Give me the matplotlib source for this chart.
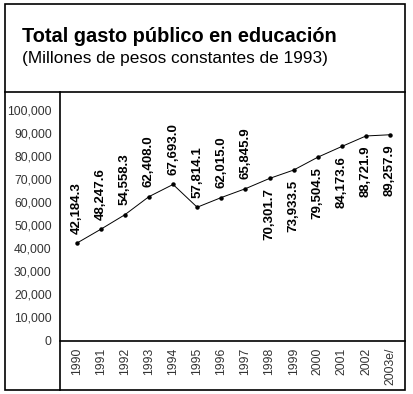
import matplotlib
matplotlib.use("Agg")
import matplotlib.pyplot as plt
from matplotlib.lines import Line2D
from matplotlib.patches import Rectangle

years = ["1990", "1991", "1992", "1993", "1994", "1995", "1996", "1997",
         "1998", "1999", "2000", "2001", "2002", "2003e/"]
gasto = [42184.3, 48247.6, 54558.3, 62408.0, 67693.0, 57814.1, 62015.0,
         65845.9, 70301.7, 73933.5, 79504.5, 84173.6, 88721.9, 89257.9]
label_above = [True] * 8 + [False] * 6
yticks = list(range(0, 100001, 10000))

W, H = 413, 394
fig = plt.figure(figsize=(W / 100, H / 100), dpi=100)
plt.rcParams['font.family'] = ['Liberation Sans', 'DejaVu Sans']

def fx(px):
    return px / W

def fy(py):
    return 1 - py / H

# frame decoration
fig.add_artist(Rectangle((fx(5), fy(390)), fx(405) - fx(5), fy(4) - fy(390),
                         transform=fig.transFigure, fill=False, edgecolor='black', lw=1.2))
fig.add_artist(Line2D([fx(5), fx(405)], [fy(92), fy(92)], transform=fig.transFigure,
                      color='black', lw=1.2))
fig.add_artist(Line2D([fx(60), fx(60)], [fy(92), fy(390)], transform=fig.transFigure,
                      color='black', lw=1.2))

fig.text(fx(22), fy(42), "Total gasto público en educación", fontsize=14.4,
         fontweight='bold', va='baseline', ha='left')
fig.text(fx(22), fy(63), "(Millones de pesos constantes de 1993)", fontsize=12.4,
         va='baseline', ha='left')

ax = fig.add_axes([fx(60), fy(340.5), fx(405) - fx(60), fy(92) - fy(340.5)])
x = list(range(len(years)))
ax.plot(x, gasto, color='black', lw=0.7, marker='o', markersize=2.2)
ax.set_xlim(-0.69, 13.62)
ax.set_ylim(0, 107800)

for s in ['top', 'right', 'left']:
    ax.spines[s].set_visible(False)
ax.spines['bottom'].set_linewidth(1.2)

ax.set_yticks(yticks)
ax.set_yticklabels([f"{v:,}" for v in yticks], fontsize=8.7, color='#333333')
ax.set_xticks(x)
ax.set_xticklabels(years, rotation=90, fontsize=8.7, color='#333333', va='top')
ax.tick_params(axis='y', length=0, pad=6)
ax.tick_params(axis='x', length=0, pad=5)

for xi, v, above in zip(x, gasto, label_above):
    ax.annotate(f"{v:,.1f}", (xi, v), xytext=(0, 7 if above else -7),
                textcoords='offset points', rotation=90, ha='center',
                va='bottom' if above else 'top', fontsize=9.5, fontweight='bold')

fig.savefig("out.png", dpi=100)
